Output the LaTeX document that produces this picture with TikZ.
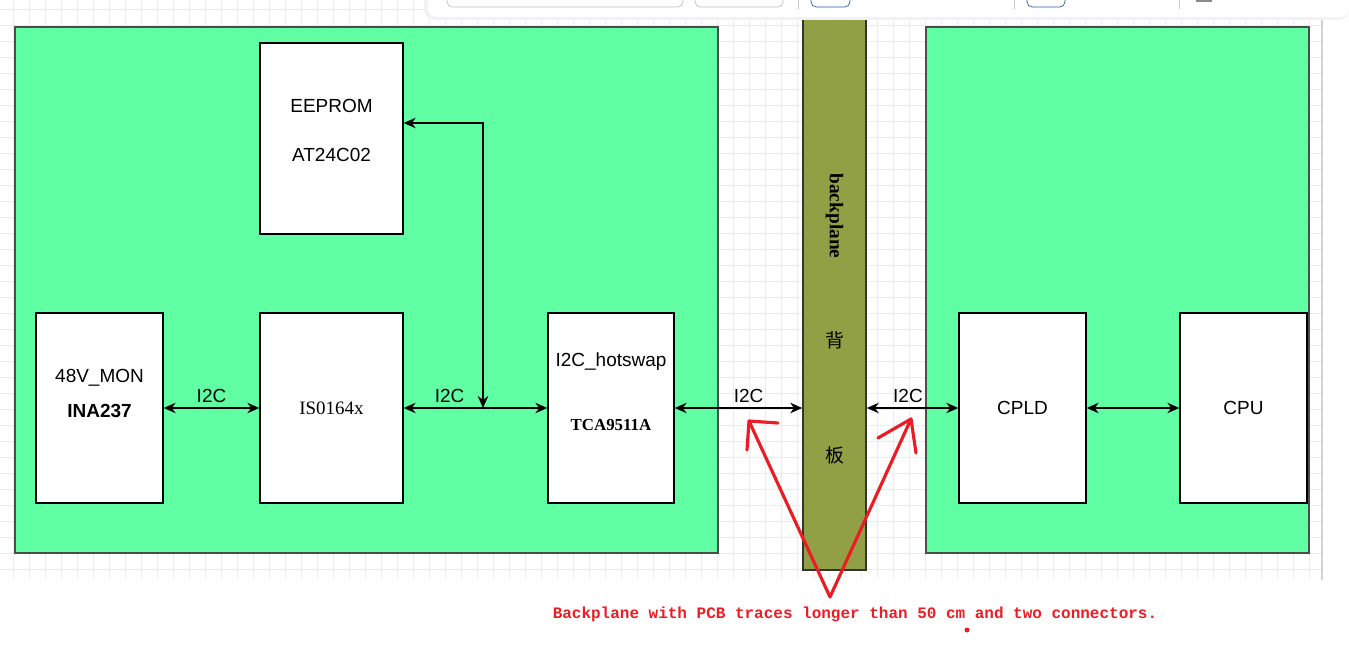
\documentclass[tikz,border=0pt]{standalone}
\usepackage{fontspec}
\setmainfont{Liberation Sans}
\newfontfamily\chipserif{Liberation Serif}
\newfontfamily\notemono{Liberation Mono}
\newfontfamily\cjkfont{Noto Sans CJK SC}
\usetikzlibrary{
    arrows.meta,
    positioning,
    calc
}
\definecolor{BoardGreen}{RGB}{96,255,163}
\definecolor{PlaneOlive}{RGB}{145,160,68}
\definecolor{NoteRed}{RGB}{236,28,36}
\definecolor{GridGray}{RGB}{236,236,236}
\definecolor{ToolBlue}{RGB}{40,90,170}
\tikzset{
  board/.style     = {draw=black!70, line width=1.1pt, fill=BoardGreen,
                      inner sep=0pt},
  plane/.style     = {draw=black!80, line width=0.9pt, fill=PlaneOlive,
                      inner sep=0pt},
  chip/.style      = {draw=black, line width=0.8pt, fill=white, inner sep=0pt,
                      minimum width=2.54cm, minimum height=3.8cm, align=center},
  partname/.style  = {font=\fontsize{9.6}{11}\selectfont\chipserif\bfseries},
  bus/.style       = {{Stealth[length=2.4mm,width=2.1mm]}-{Stealth[length=2.4mm,width=2.1mm]},
                      line width=0.8pt},
  buslabel/.style  = {above=1.5pt, inner sep=1pt},
  note/.style      = {NoteRed, line width=1.8pt, line cap=round, line join=round}
}

\begin{document}
\begin{tikzpicture}[x=0.02cm, y=-0.02cm, every node/.style={font=\fontsize{10.8}{13}\selectfont}]
\useasboundingbox (0,0) rectangle (1349,658);
% grid of the editor
\foreach \gx in {13,29,...,1310}
  \draw[GridGray, line width=0.4pt] (\gx,0) -- (\gx,578);
\foreach \gy in {9,25,...,570}
  \draw[GridGray, line width=0.4pt] (0,\gy) -- (1322,\gy);
\draw[black!18, line width=0.8pt] (1322,0) -- (1322,580);

% boards and backplane
\node[board, minimum width=14.06cm, minimum height=10.52cm] (leftboard) at (366.5,290) {};
\node[board, minimum width=7.66cm, minimum height=10.52cm] (rightboard) at (1117.5,290) {};
\node[plane, minimum width=1.26cm, minimum height=11.3cm] (plane) at (834.5,287.5) {};
\node[rotate=-90, font=\fontsize{11}{13}\selectfont\chipserif\bfseries] (planeen) at (834.5,216) {backplane};
\node[font=\fontsize{10.8}{13}\selectfont\cjkfont] (planecn1) at (834.5,340) {背};
\node[font=\fontsize{10.8}{13}\selectfont\cjkfont] (planecn2) at (834.5,455) {板};

% chips
\node[chip, minimum width=2.86cm, minimum height=3.82cm] (eeprom) at (331.5,138.5) {};
\node (eepromname) at (331.5,106) {EEPROM};
\node (eeprompart) at (331.5,155) {AT24C02};
\node[chip] (mon) at (99.5,408) {};
\node (monname) at (99.5,378) {48V\_MON};
\node[font=\fontsize{10.8}{13}\selectfont\bfseries] (monpart) at (99.5,411) {INA237};
\node[chip, minimum width=2.86cm, font=\fontsize{10.8}{13}\selectfont\chipserif] (iso) at (331.5,408) {IS0164x};
\node[chip, minimum width=2.52cm] (hotswap) at (611,408) {};
\node (hotname) at (611,362) {I2C\_hotswap};
\node[partname] (hotpart) at (611,425) {TCA9511A};
\node[chip] (cpld) at (1022.5,408) {CPLD};
\node[chip] (cpu) at (1243.5,408) {CPU};

% I2C buses
\coordinate (tap) at (483,408);
\coordinate (eetap) at (483,123);
\draw[bus] (mon) -- node[buslabel] (bus1) {I2C} (iso);
\draw[bus] (iso) -- node[buslabel, pos=0.32] (bus2) {I2C} (hotswap);
\draw[bus] (eeprom.east |- eetap) -- (eetap) -- (tap);
\draw[bus] (hotswap.east) -- node[buslabel, pos=0.58] (bus3) {I2C} (hotswap.east -| plane.west);
\draw[bus] (cpld.west -| plane.east) -- node[buslabel, pos=0.45] (bus4) {I2C} (cpld.west);
\draw[bus] (cpld) -- (cpu);

% red remark
\coordinate (vtip) at (830,597);
\coordinate (lefttip) at (749,421);
\coordinate (righttip) at (911,419);
\draw[note] (vtip) -- (lefttip);
\draw[note] (778,423) -- (lefttip) -- (747,450);
\draw[note] (vtip) -- (righttip);
\draw[note] (878,438) -- (righttip) -- (916,453);
\node[NoteRed, font=\fontsize{9.1}{11}\selectfont\notemono\bfseries] (remark) at (855,614)
  {Backplane with PCB traces longer than 50 cm and two connectors.};
\fill[NoteRed] (967,630) circle (0.05cm);

% toolbar of the editor
\fill[black!5, rounded corners=6pt] (424,-10) rectangle (1349,20);
\fill[white, rounded corners=5pt] (428,-10) rectangle (1349,17);
\draw[black!25, rounded corners=3pt] (447,-5) rectangle (683,7);
\draw[black!25, rounded corners=3pt] (695,-5) rectangle (783,7);
\draw[ToolBlue, rounded corners=3pt] (811,-5) rectangle (850,7);
\draw[ToolBlue, rounded corners=3pt] (1027,-5) rectangle (1065,7);
\draw[black!20] (798,0) -- (798,9);
\draw[black!20] (1014,0) -- (1014,9);
\draw[black!20] (1179,0) -- (1179,9);
\draw[black!45, line width=1pt] (1196,1) -- (1212,1);
\end{tikzpicture}
\end{document}
